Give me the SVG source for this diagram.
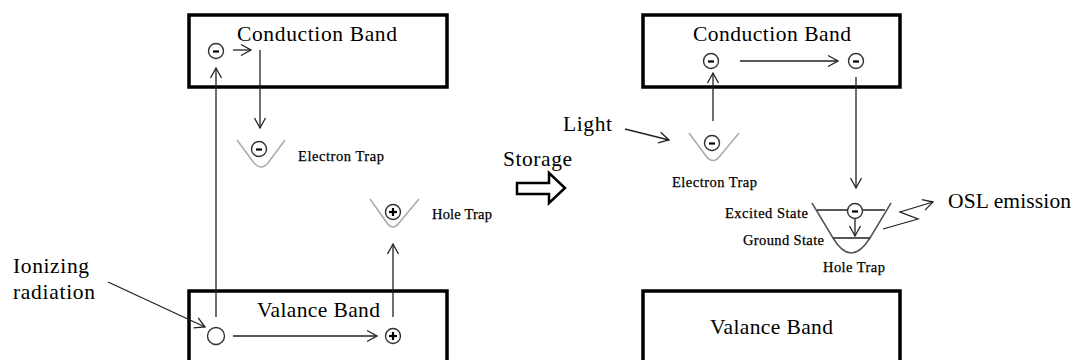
<svg xmlns="http://www.w3.org/2000/svg" width="1080" height="360" viewBox="0 0 1080 360">
<style>
.box{fill:#fff;stroke:#000;stroke-width:3.5}
.big{font-family:"Liberation Serif","Times New Roman",serif;font-size:21.5px;fill:#000}
.sm{font-family:"Liberation Serif","Times New Roman",serif;font-size:14.5px;fill:#000;stroke:#000;stroke-width:0.25}
.ln{fill:none;stroke:#222;stroke-width:1.3}
.trap{fill:none;stroke:#aaa;stroke-width:1.5}
.ch{fill:#fff;stroke:#333;stroke-width:1.4}
.sign{stroke:#000;stroke-width:2.2}
</style>
<defs>
<marker id="ah" markerUnits="userSpaceOnUse" markerWidth="14" markerHeight="14" refX="11" refY="7" orient="auto">
<path d="M1,1.5 L11,7 L1,12.5" fill="none" stroke="#222" stroke-width="1.3"/>
</marker>
</defs>

<g id="cb-left"><rect class="box" x="189" y="15" width="258" height="72"/>
<text class="big" x="237" y="41" textLength="160">Conduction Band</text></g>
<g id="vb-left"><rect class="box" x="189" y="291" width="258" height="90"/>
<text class="big" x="257" y="317" textLength="123">Valance Band</text></g>
<g id="cb-right"><rect class="box" x="643" y="15" width="257" height="72"/>
<text class="big" x="693" y="41" textLength="158">Conduction Band</text></g>
<g id="vb-right"><rect class="box" x="643" y="291" width="257" height="90"/>
<text class="big" x="710" y="334" textLength="123">Valance Band</text></g>

<g id="e-left-cb"><circle class="ch" cx="216" cy="51" r="7.5"/><line class="sign" x1="213" y1="51.5" x2="219" y2="51.5"/></g>
<g id="e-trap-left"><path class="trap" d="M237,140 L254,163 Q261,171 268,163 L285,140"/>
<circle class="ch" cx="259" cy="149" r="7.5"/><line class="sign" x1="256" y1="149.5" x2="262" y2="149.5"/>
<text class="sm" x="298" y="161" textLength="86">Electron Trap</text></g>
<g id="h-trap-left"><path class="trap" d="M370,199 L387,223 Q393,231 399,223 L419,199"/>
<circle class="ch" cx="393" cy="212" r="7.5"/><line class="sign" x1="389" y1="212" x2="397" y2="212"/><line class="sign" x1="393" y1="208" x2="393" y2="216"/>
<text class="sm" x="432" y="219" textLength="60">Hole Trap</text></g>
<g id="hole-vb"><circle class="ch" cx="216" cy="336" r="8.5"/></g>
<g id="plus-vb"><circle class="ch" cx="393" cy="336" r="7.5"/><line class="sign" x1="389" y1="336" x2="397" y2="336"/><line class="sign" x1="393" y1="332" x2="393" y2="340"/></g>
<g id="ionizing"><text class="big" x="13" y="273" textLength="76">Ionizing</text><text class="big" x="13" y="299" textLength="82">radiation</text></g>

<g id="storage"><text class="big" x="503" y="166" textLength="69">Storage</text>
<path d="M517,183 L549,183 L549,173 L565,188 L549,203 L549,194 L517,194 Z" fill="#fff" stroke="#000" stroke-width="2.5"/></g>

<g id="e-right-cb1"><circle class="ch" cx="711" cy="61" r="7.5"/><line class="sign" x1="708" y1="61.5" x2="714" y2="61.5"/></g>
<g id="e-right-cb2"><circle class="ch" cx="856" cy="61" r="7.5"/><line class="sign" x1="853" y1="61.5" x2="859" y2="61.5"/></g>
<g id="light"><text class="big" x="563" y="131" textLength="49">Light</text></g>
<g id="e-trap-right"><path class="trap" d="M689,133 L706,156 Q713,165 720,156 L739,133"/>
<circle class="ch" cx="712" cy="143" r="7.5"/><line class="sign" x1="709" y1="143.5" x2="715" y2="143.5"/>
<text class="sm" x="672" y="187" textLength="85">Electron Trap</text></g>
<g id="h-trap-right"><path class="trap" d="M812,203 L833,238 Q851,268 870,238 L891,203" style="stroke:#555"/>
<line class="ln" x1="817" y1="210" x2="885" y2="210"/>
<line class="ln" x1="833" y1="238" x2="870" y2="238"/>
<circle class="ch" cx="855" cy="211" r="7.5"/><line class="sign" x1="852" y1="211.5" x2="858" y2="211.5"/>
<text class="sm" x="725" y="218" textLength="83">Excited State</text>
<text class="sm" x="743" y="245" textLength="81">Ground State</text>
<text class="sm" x="823" y="272" textLength="62">Hole Trap</text></g>
<g id="osl"><text class="big" x="948" y="208" textLength="123">OSL emission</text></g>

<g id="connectors">
<line class="ln" x1="233" y1="50" x2="251" y2="50" marker-end="url(#ah)"/>
<line class="ln" x1="260" y1="50" x2="260" y2="128" marker-end="url(#ah)"/>
<line class="ln" x1="216" y1="317" x2="216" y2="68" marker-end="url(#ah)"/>
<line class="ln" x1="393" y1="317" x2="393" y2="244" marker-end="url(#ah)"/>
<line class="ln" x1="233" y1="336" x2="377" y2="336" marker-end="url(#ah)"/>
<line class="ln" x1="108" y1="282" x2="205" y2="327" marker-end="url(#ah)"/>
<line class="ln" x1="740" y1="61" x2="838" y2="61" marker-end="url(#ah)"/>
<line class="ln" x1="713" y1="121" x2="713" y2="73" marker-end="url(#ah)"/>
<line class="ln" x1="856" y1="77" x2="856" y2="188" marker-end="url(#ah)"/>
<line class="ln" x1="625" y1="129" x2="669" y2="140" marker-end="url(#ah)"/>
<line class="ln" x1="855" y1="219" x2="855" y2="236" marker-end="url(#ah)"/>
<polyline class="ln" points="883,229 918,219 900,212 933,202" marker-end="url(#ah)"/>
</g>
</svg>
